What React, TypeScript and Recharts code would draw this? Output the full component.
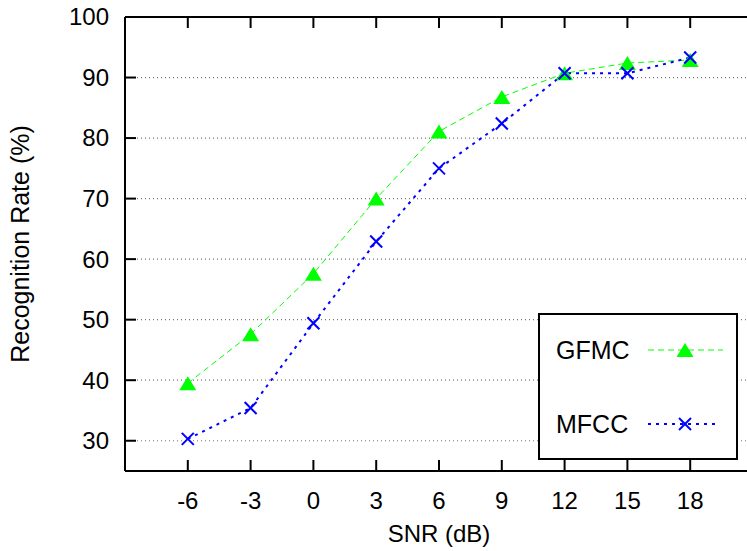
import React from "react";
import { LineChart, Line, XAxis, YAxis, CartesianGrid, Legend } from "recharts";

const snr = [-6, -3, 0, 3, 6, 9, 12, 15, 18];
const gfmc = [39.5, 47.6, 57.6, 70.0, 81.1, 86.8, 90.7, 92.4, 92.9];
const mfcc = [30.3, 35.4, 49.4, 62.9, 75.0, 82.4, 90.7, 90.7, 93.3];
const xTicks = [-6, -3, 0, 3, 6, 9, 12, 15, 18];
const yTicks = [30, 40, 50, 60, 70, 80, 90, 100];
const seriesNames = { gfmc: "GFMC", mfcc: "MFCC" };

const data = snr.map((s, i) => ({ snr: s, gfmc: gfmc[i], mfcc: mfcc[i] }));

const FONT = "'Liberation Sans', Arial, Helvetica, sans-serif";
const FS = 24;
const GREEN = "#00ff00";
const BLUE = "#0000ff";
const TICK = 11;

const Triangle = ({ cx, cy }: any) => {
  if (cx == null || cy == null) return null;
  const w = 8.5;
  const h = 14;
  return (
    <polygon
      points={`${cx - w},${cy + h / 2} ${cx + w},${cy + h / 2} ${cx},${cy - h / 2}`}
      fill={GREEN}
      stroke="none"
    />
  );
};

const Cross = ({ cx, cy }: any) => {
  if (cx == null || cy == null) return null;
  const r = 6;
  return (
    <g stroke={BLUE} strokeWidth={2}>
      <line x1={cx - r} y1={cy - r} x2={cx + r} y2={cy + r} />
      <line x1={cx - r} y1={cy + r} x2={cx + r} y2={cy - r} />
    </g>
  );
};

const BottomTick = ({ x, y, payload }: any) => (
  <g>
    <line x1={x} y1={y} x2={x} y2={y - TICK} stroke="#000" strokeWidth={2} />
    <text x={x} y={y + 30} dy="0.35em" textAnchor="middle" fontSize={FS} fontFamily={FONT} fill="#000">
      {payload.value}
    </text>
  </g>
);

const TopTick = ({ x, y }: any) => (
  <line x1={x} y1={y} x2={x} y2={y + TICK} stroke="#000" strokeWidth={2} />
);

const LeftTick = ({ x, y, payload }: any) => (
  <g>
    {payload.value !== 100 && (
      <line x1={x} y1={y} x2={x + TICK} y2={y} stroke="#000" strokeWidth={2} />
    )}
    <text x={x - 16} y={y} dy="0.35em" textAnchor="end" fontSize={FS} fontFamily={FONT} fill="#000">
      {payload.value}
    </text>
  </g>
);

const RightTick = ({ x, y, payload }: any) =>
  payload.value !== 100 ? (
    <line x1={x} y1={y} x2={x - TICK} y2={y} stroke="#000" strokeWidth={2} />
  ) : null;

const LegendBox = ({ payload }: any) => {
  const items = (payload || []).filter((p: any) => p.type !== "none");
  return (
    <svg width={200} height={147} style={{ display: "block" }}>
      <rect x={1} y={1} width={198} height={145} fill="#fff" stroke="#000" strokeWidth={2} />
      {items.map((p: any, i: number) => {
        const cy = 37 + i * 74;
        const isG = p.dataKey === "gfmc";
        return (
          <g key={p.dataKey}>
            <text x={18} y={cy} dy="0.35em" fontSize={25} fontFamily={FONT} fill="#000">
              {p.value}
            </text>
            <line
              x1={110}
              y1={cy}
              x2={isG ? 185 : 180}
              y2={cy}
              stroke={p.color}
              strokeWidth={isG ? 1 : 2}
              strokeDasharray={isG ? "6 4" : "3 5"}
            />
            {isG ? <Triangle cx={147} cy={cy} /> : <Cross cx={147} cy={cy} />}
          </g>
        );
      })}
    </svg>
  );
};

export default function App() {
  return (
    <div style={{ position: "absolute", left: 0, top: 0, width: 747, height: 551, overflow: "hidden", background: "#fff" }}>
      <LineChart
        width={760}
        height={551}
        data={data}
        margin={{ top: 16, left: 124, right: 6, bottom: 79 }}
      >
        <CartesianGrid vertical={false} stroke="#777" strokeDasharray="1 3" strokeWidth={1.2} />
        <XAxis
          dataKey="snr"
          type="number"
          domain={[-9, 21]}
          ticks={xTicks}
          interval={0}
          height={1}
          tickSize={0}
          tickMargin={0}
          tickLine={false}
          axisLine={{ stroke: "#000", strokeWidth: 2 }}
          tick={<BottomTick />}
          label={{ value: "SNR (dB)", position: "bottom", offset: 53, fontSize: FS, fontFamily: FONT, fill: "#000" }}
        />
        <XAxis
          xAxisId="top"
          orientation="top"
          dataKey="snr"
          type="number"
          domain={[-9, 21]}
          ticks={xTicks}
          interval={0}
          height={1}
          tickSize={0}
          tickMargin={0}
          tickLine={false}
          axisLine={{ stroke: "#000", strokeWidth: 2 }}
          tick={<TopTick />}
        />
        <YAxis
          type="number"
          domain={[25, 100]}
          ticks={yTicks}
          interval={0}
          width={1}
          tickSize={0}
          tickMargin={0}
          tickLine={false}
          axisLine={{ stroke: "#000", strokeWidth: 2 }}
          tick={<LeftTick />}
          label={{
            value: "Recognition Rate (%)",
            angle: -90,
            position: "left",
            offset: 104,
            fontSize: 25,
            fontFamily: FONT,
            fill: "#000",
            style: { textAnchor: "middle" },
          }}
        />
        <YAxis
          yAxisId="r"
          orientation="right"
          type="number"
          domain={[25, 100]}
          ticks={yTicks}
          interval={0}
          width={1}
          tickSize={0}
          tickMargin={0}
          tickLine={false}
          axisLine={{ stroke: "#000", strokeWidth: 2 }}
          tick={<RightTick />}
        />
        <Legend
          layout="horizontal"
          verticalAlign="middle"
          align="center"
          content={<LegendBox />}
          wrapperStyle={{ left: 538, top: 313, width: 200, height: 147 }}
        />
        <Line
          dataKey="gfmc"
          name={seriesNames.gfmc}
          stroke={GREEN}
          strokeWidth={1}
          strokeDasharray="6 4"
          dot={<Triangle />}
          activeDot={false}
          isAnimationActive={false}
        />
        <Line
          dataKey="mfcc"
          name={seriesNames.mfcc}
          stroke={BLUE}
          strokeWidth={2}
          strokeDasharray="3 5"
          dot={<Cross />}
          activeDot={false}
          isAnimationActive={false}
        />
      </LineChart>
    </div>
  );
}
